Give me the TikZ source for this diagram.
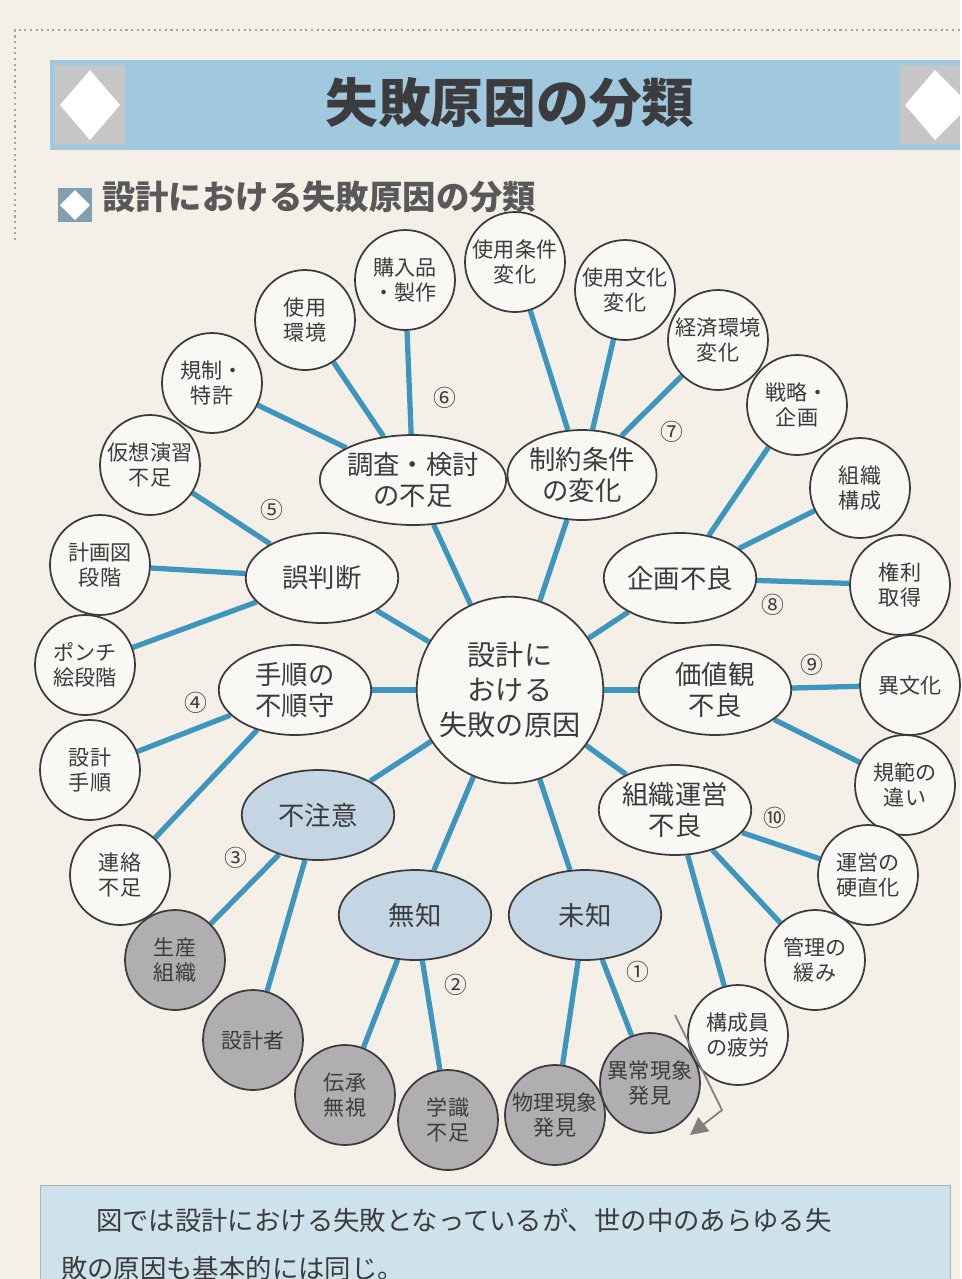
\documentclass[tikz,border=0pt]{standalone}
\usepackage{fontspec}
\setmainfont{Noto Sans CJK JP}
\usetikzlibrary{shapes.geometric,backgrounds,arrows.meta}
\definecolor{paper}{RGB}{244,240,232}
\definecolor{band}{RGB}{160,200,222}
\definecolor{conn}{RGB}{62,150,190}
\definecolor{nodefill}{RGB}{250,248,244}
\definecolor{greyfill}{RGB}{176,174,176}
\definecolor{bluefill}{RGB}{196,214,228}
\definecolor{ink}{RGB}{60,60,62}
\definecolor{boxbg}{RGB}{206,226,236}
\tikzset{x=0.02cm,y=-0.02cm,
 leaf/.style={circle,draw=ink,line width=1pt,fill=nodefill,minimum size=2cm,inner sep=0pt,align=center,font=\fontsize{12}{14}\selectfont,text=ink},
 greyleaf/.style={leaf,fill=greyfill},
 mid/.style={ellipse,draw=ink,line width=1pt,fill=nodefill,minimum width=3.05cm,minimum height=1.8cm,inner sep=0pt,align=center,font=\fontsize{15}{18}\selectfont,text=ink},
 bluemid/.style={mid,fill=bluefill},
 num/.style={font=\fontsize{13}{14}\selectfont,text=ink},
 link/.style={draw=conn,line width=3pt}}
\begin{document}
\begin{tikzpicture}
\begin{pgfonlayer}{background}
\fill[paper] (0,0) rectangle (960,1279);
\draw[gray!70,dotted,line width=1.2pt] (15,240) -- (15,30) -- (960,30);
\end{pgfonlayer}
% title band
\fill[band] (50,60) rectangle (960,150);
\fill[gray!45] (55,65) rectangle (125,145);
\fill[white] (90,70) -- (120,105) -- (90,140) -- (60,105) -- cycle;
\fill[gray!45] (900,65) rectangle (960,145);
\fill[white] (935,70) -- (960,95) -- (960,115) -- (935,140) -- (905,105) -- cycle;
\node[font=\fontsize{30}{32}\selectfont\bfseries,text=ink] (title) at (510,103) {失敗原因の分類};
% subtitle
\fill[band!80!black] (58,188) rectangle (92,222);
\fill[white] (75,190) -- (90,205) -- (75,220) -- (60,205) -- cycle;
\node[anchor=west,font=\fontsize{19}{21}\selectfont\bfseries,text=ink!85] (sub) at (96,197) {設計における失敗原因の分類};
% center
\node[circle,draw=ink,line width=1pt,fill=nodefill,minimum size=3.6cm,align=center,font=\fontsize{16}{20}\selectfont,text=ink] (c) at (510,690) {設計に\\おける\\失敗の原因};
% mids
\node[mid,minimum width=2.9cm] (m6) at (413,480) {調査・検討\\の不足};
\node[mid,minimum width=2.9cm] (m7) at (582,475) {制約条件\\の変化};
\node[mid] (m8) at (680,578) {企画不良};
\node[mid] (m9) at (715,690) {価値観\\不良};
\node[mid] (m10) at (675,810) {組織運営\\不良};
\node[bluemid] (m1) at (585,915) {未知};
\node[bluemid] (m2) at (415,915) {無知};
\node[bluemid] (m3) at (318,815) {不注意};
\node[mid] (m4) at (295,690) {手順の\\不順守};
\node[mid] (m5) at (322,578) {誤判断};
% leaves
\node[leaf] (a1) at (405,280) {購入品\\・製作};
\node[leaf] (a2) at (515,262) {使用条件\\変化};
\node[leaf] (a3) at (625,290) {使用文化\\変化};
\node[leaf] (a4) at (718,340) {経済環境\\変化};
\node[leaf] (a5) at (797,405) {戦略・\\企画};
\node[leaf] (a6) at (860,488) {組織\\構成};
\node[leaf] (a7) at (900,585) {権利\\取得};
\node[leaf] (a8) at (910,685) {異文化};
\node[leaf] (a9) at (905,785) {規範の\\違い};
\node[leaf] (a10) at (868,875) {運営の\\硬直化};
\node[leaf] (a11) at (815,960) {管理の\\緩み};
\node[leaf] (a12) at (738,1035) {構成員\\の疲労};
\node[greyleaf] (a13) at (650,1083) {異常現象\\発見};
\node[greyleaf] (a14) at (555,1115) {物理現象\\発見};
\node[greyleaf] (a15) at (448,1120) {学識\\不足};
\node[greyleaf] (a16) at (345,1095) {伝承\\無視};
\node[greyleaf] (a17) at (253,1040) {設計者};
\node[greyleaf] (a18) at (175,960) {生産\\組織};
\node[leaf] (a19) at (120,875) {連絡\\不足};
\node[leaf] (a20) at (90,770) {設計\\手順};
\node[leaf] (a21) at (85,665) {ポンチ\\絵段階};
\node[leaf] (a22) at (100,565) {計画図\\段階};
\node[leaf] (a23) at (150,465) {仮想演習\\不足};
\node[leaf] (a24) at (212,383) {規制・\\特許};
\node[leaf] (a25) at (305,320) {使用\\環境};
% numbers
\node[num] (n6) at (445,398) {⑥};
\node[num] (n7) at (672,432) {⑦};
\node[num] (n8) at (773,605) {⑧};
\node[num] (n9) at (812,665) {⑨};
\node[num] (n10) at (775,818) {⑩};
\node[num] (n1) at (638,972) {①};
\node[num] (n2) at (456,985) {②};
\node[num] (n3) at (236,858) {③};
\node[num] (n4) at (196,703) {④};
\node[num] (n5) at (272,510) {⑤};
% links
\begin{pgfonlayer}{background}
\foreach \m in {m1,m2,m3,m4,m5,m6,m7,m8,m9,m10} \draw[link] (c) -- (\m);
\foreach \m/\l in {m6/a1,m6/a24,m6/a25,m7/a2,m7/a3,m7/a4,m8/a5,m8/a6,m8/a7,m9/a8,m9/a9,m10/a10,m10/a11,m10/a12,m1/a13,m1/a14,m2/a15,m2/a16,m3/a17,m3/a18,m4/a19,m4/a20,m5/a21,m5/a22,m5/a23}
  \draw[link] (\m) -- (\l);
\end{pgfonlayer}
% arrow
\coordinate (ar1) at (675,1015);
\coordinate (ar2) at (722,1110);
\coordinate (ar3) at (690,1135);
\draw[gray,line width=1pt,-{Triangle[length=10pt,width=10pt]}] (ar1) -- (ar2) -- (ar3);
% bottom box
\begin{scope}
\clip (0,0) rectangle (960,1279);
\fill[boxbg] (40,1185) rectangle (950,1290);
\draw[gray!60] (40,1290) -- (40,1185) -- (950,1185) -- (950,1290);
\node[anchor=west,font=\fontsize{15}{18}\selectfont,text=ink] (t1) at (90,1220) {図では設計における失敗となっているが、世の中のあらゆる失};
\node[anchor=west,font=\fontsize{15}{18}\selectfont,text=ink] (t2) at (55,1268) {敗の原因も基本的には同じ。};
\end{scope}
\end{tikzpicture}
\end{document}
